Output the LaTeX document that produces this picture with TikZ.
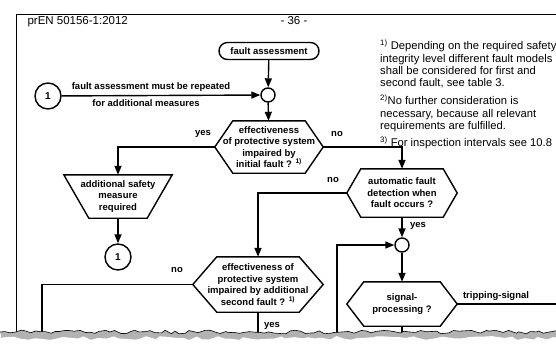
\documentclass[tikz,border=0pt]{standalone}
\usepackage{fontspec}
\setmainfont{Liberation Sans}
\usetikzlibrary{arrows.meta,shapes.misc,positioning,decorations.pathmorphing,calc}

% hexagonal decision frame round a rectangular node
\newcommand{\hexframe}[2]{%
  \draw[frameline] (#1.west) -- ([xshift=#2]#1.north west) -- ([xshift=-#2]#1.north east)
    -- (#1.east) -- ([xshift=-#2]#1.south east) -- ([xshift=#2]#1.south west) -- cycle;}

\begin{document}
\begin{tikzpicture}[x=1pt,y=-1pt,
    frameline/.style={line width=1.4pt,line join=miter},
    box/.style={rectangle,inner sep=0pt,align=center,font=\fontsize{9.5}{11.5}\selectfont\bfseries},
    term/.style={rounded rectangle,draw,line width=1.4pt,minimum width=102pt,minimum height=17pt,inner sep=1pt,font=\fontsize{9.5}{11}\selectfont\bfseries},
    joint/.style={circle,draw,line width=1.4pt,minimum size=14pt,inner sep=0pt},
    conn/.style={circle,draw,line width=1.4pt,minimum size=26pt,inner sep=0pt,font=\fontsize{10}{12}\selectfont\bfseries},
    lbl/.style={font=\fontsize{9.5}{11}\selectfont\bfseries,inner sep=0pt},
    note/.style={anchor=north west,align=left,inner sep=0pt,font=\fontsize{11.2}{12.3}\selectfont},
    arrow/.style={line width=1.4pt,-{Triangle[length=9pt,width=7pt]}},
    wire/.style={line width=1.4pt}
]
    \useasboundingbox (0,0) rectangle (556,345);
    \clip (0,0) rectangle (556,345);
    \fill[white] (0,0) rectangle (556,345);

    % page frame and header
    \draw[line width=0.9pt] (16,336) -- (16,14) -- (560,14);
    \node[anchor=base west,font=\fontsize{11.5}{13}\selectfont] (docid) at (24,25) {prEN 50156-1:2012};
    \node[anchor=base,font=\fontsize{11.5}{13}\selectfont] (pageno) at (294,25) {- 36 -};

    % start and first merge
    \node[term] (start) at (269,51) {fault assessment};
    \node[joint] (j1) at (268,95) {};
    \node[conn] (c1) at (48,96) {1};
    \draw[arrow] (start) -- (j1);
    \draw[arrow] (c1) -- (j1);
    \node[lbl] (rep1) at (151,87) {fault assessment must be repeated};
    \node[lbl] (rep2) at (146,103) {for additional measures};

    % first decision
    \node[box,minimum width=108pt,minimum height=52pt] (q1) at (269,147) {effectiveness\\of protective system\\impaired by\\initial fault ? \textsuperscript{1)}};
    \hexframe{q1}{18pt}
    \draw[arrow] (j1) -- (q1);

    % yes branch
    \node[box,minimum width=108pt,minimum height=43pt] (add) at (118,196.5) {additional safety\\measure\\required};
    \draw[frameline] (add.north west) -- (add.north east) -- ([xshift=-25pt]add.south east) -- ([xshift=25pt]add.south west) -- cycle;
    \node[conn] (c2) at (118,257) {1};
    \draw[arrow] (q1.west) -| (add.north);
    \node[lbl] (yes1) at (203,134) {yes};
    \draw[arrow] (add.south) -- (c2);

    % no branch: automatic detection
    \node[box,minimum width=110pt,minimum height=48pt] (q2) at (402,193) {automatic fault\\detection when\\fault occurs ?};
    \hexframe{q2}{14pt}
    \draw[arrow] (q1.east) -| (q2.north);
    \node[lbl] (no1) at (337,134) {no};

    % second decision
    \node[box,minimum width=130pt,minimum height=55pt] (q3) at (258,284.5) {effectiveness of\\protective system\\impaired by additional\\second fault ? \textsuperscript{1)}};
    \hexframe{q3}{24pt}
    \draw[arrow] (q2.west) -| (q3.north);
    \node[lbl] (no2) at (333,180) {no};
    \coordinate (q3no) at (42,336);
    \coordinate (q3yes) at (258,336);
    \draw[wire] (q3.west) -| (q3no);
    \draw[wire] (q3.south) -- (q3yes);
    \node[lbl] (no3) at (177,270) {no};
    \node[lbl] (yes3) at (272,326) {yes};

    % signal processing
    \node[joint] (j2) at (402,245) {};
    \draw[arrow] (q2.south) -- (j2);
    \node[lbl] (yes2) at (418,226) {yes};
    \coordinate (back) at (337,336);
    \draw[arrow] (back) |- (j2.west);
    \node[box,minimum width=110pt,minimum height=44pt] (q4) at (402,304) {signal-\\processing ?};
    \hexframe{q4}{17pt}
    \draw[arrow] (j2) -- (q4);
    \coordinate (q4down) at (402,336);
    \coordinate (trip) at (560,304);
    \draw[wire] (q4.south) -- (q4down);
    \draw[wire] (q4.east) -- (trip);
    \node[lbl] (tripl) at (496,296) {tripping-signal};

    % footnotes
    \node[note] (fn1) at (380,40) {\textsuperscript{1)} Depending on the required safety\\integrity level different fault models\\shall be considered for first and\\second fault, see table 3.};
    \node[note] (fn2) at (380,95) {\textsuperscript{2)}No further consideration is\\necessary, because all relevant\\requirements are fulfilled.};
    \node[note] (fn3) at (380,137) {\textsuperscript{3)} For inspection intervals see 10.8};

    % torn lower edge
    \pgfmathsetseed{7}
    \fill[gray!60,decorate,decoration={random steps,segment length=5pt,amplitude=1.8pt}] (0,332) -- (560,332) -- (560,352) -- (0,352) -- cycle;
    \pgfmathsetseed{3}
    \fill[white,decorate,decoration={random steps,segment length=7pt,amplitude=2pt}] (0,338) -- (560,338) -- (560,352) -- (0,352) -- cycle;
    \pgfmathsetseed{7}
    \draw[line width=0.6pt,decorate,decoration={random steps,segment length=5pt,amplitude=1.8pt}] (0,332) -- (560,332);
\end{tikzpicture}
\end{document}
